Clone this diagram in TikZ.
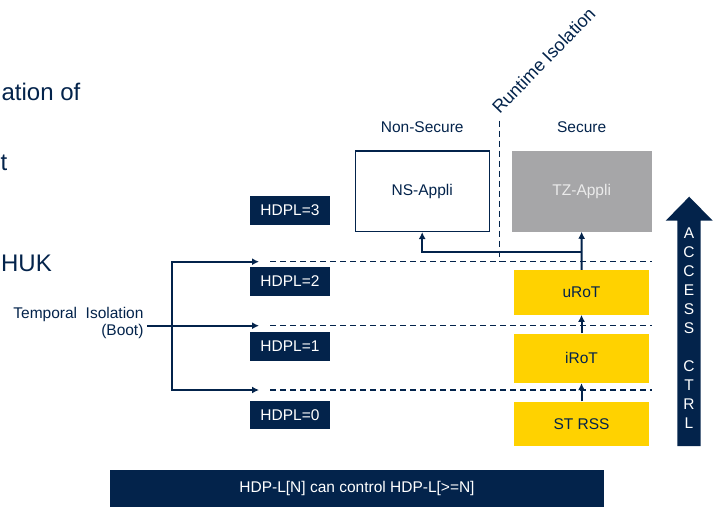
\documentclass[tikz,border=0pt]{standalone}
\usepackage{fontspec}
\setmainfont{Liberation Sans}
\usetikzlibrary{arrows.meta,positioning}
\definecolor{stnavy}{RGB}{3,35,75}
\definecolor{styellow}{RGB}{255,210,0}
\definecolor{tzgray}{RGB}{166,166,168}

\begin{document}
\begin{tikzpicture}
	[
		x=1pt, y=-1pt,
		every node/.style={font=\fontsize{15.5}{17.7}\selectfont, text=stnavy},
		hdpl/.style={fill=stnavy, text=white, minimum width=80pt, minimum height=28.5pt, inner sep=0pt},
		rot/.style={fill=styellow, minimum width=135pt, inner sep=0pt},
		appli/.style={minimum height=80.5pt, inner sep=0pt},
		flow/.style={stnavy, line width=2pt, -{Latex[length=7pt,width=7pt]}},
		level/.style={stnavy, line width=1.2pt, dash pattern=on 6pt off 4pt},
		slide/.style={font=\fontsize{24}{28}\selectfont, anchor=base east, inner sep=0pt}
	]
	\useasboundingbox (0,0) rectangle (717,506);

	% cut-off slide text
	\node(slide1) [slide] at (80.5,100.7) {ation of};
	\node(slide2) [slide] at (7.5,170) {t};
	\node(slide3) [slide] at (52,271.7) {DHUK};

	% levels
	\node(hdpl3) [hdpl] at (290,210.3) {HDPL=3};
	\node(hdpl2) [hdpl] at (290,281.5) {HDPL=2};
	\node(hdpl1) [hdpl] at (290,346.5) {HDPL=1};
	\node(hdpl0) [hdpl] at (290,415.2) {HDPL=0};

	\node(ns) [appli, draw=stnavy, line width=1.2pt, minimum width=134pt] at (422.2,191.2) {NS-Appli};
	\node(tz) [appli, fill=tzgray, text=white!92!black, minimum width=140pt] at (581.7,191.3) {TZ-Appli};
	\node(nslabel) at (ns.center |- 0,127) {Non-Secure};
	\node(tzlabel) at (tz.center |- 0,127) {Secure};

	\node(urot) [rot, minimum height=44.7pt] at (581.5,292.3) {uRoT};
	\node(irot) [rot, minimum height=49.4pt, below=18.5pt of urot] {iRoT};
	\node(strss) [rot, minimum height=44.7pt, below=18.3pt of irot] {ST RSS};

	\draw[flow] (strss) -- (irot);
	\draw[flow] (irot) -- (urot);
	\draw[flow] (urot) -- (tz);
	\coordinate (tee) at (urot.north |- 0,252.3);
	\draw[flow] (tee) -| (ns.south);

	% level separators
	\coordinate (lvl2) at (270,261.7);
	\coordinate (lvl1) at (270,325.7);
	\coordinate (lvl0) at (270,390);
	\foreach \l in {0,1,2}
		\draw[level] (lvl\l) -- (lvl\l -| tz.east);

	% runtime isolation
	\coordinate (rtop) at (499.3,120.7);
	\draw[level] (rtop) -- (rtop |- lvl2);
	\node(runtime) [rotate=46, anchor=base west, font=\fontsize{18}{20}\selectfont] at (497.5,117.5) {Runtime Isolation};

	% temporal isolation
	\node(temporal) [anchor=east, align=right] at (147,323) {Temporal\ \ Isolation\\(Boot)};
	\coordinate (fork) at (172.3,325.7);
	\foreach \l in {0,1,2}
		\coordinate (tip\l) at ([xshift=-11pt]lvl\l);
	\draw[flow] (temporal.east |- fork) -- (tip1);
	\draw[flow] (fork) -- (fork |- tip2) -- (tip2);
	\draw[flow] (fork) -- (fork |- tip0) -- (tip0);

	% access control
	\fill[stnavy] (677.3,446) -- (677.3,220.7) -- (665.7,220.7) -- (689.2,196.7)
		-- (712.7,220.7) -- (700.7,220.7) -- (700.7,446) -- cycle;
	\foreach \ch/\p in {A/0,C/1,C/2,E/3,S/4,S/5,C/7,T/8,R/9,L/10}
		\node(acc\p) [text=white] at (689,{232.7+19.06*\p}) {\ch};

	\node(rule) [fill=stnavy, text=white, minimum width=494pt, minimum height=37pt, inner sep=0pt,
		font=\fontsize{15.5}{18}\selectfont] at (357,488) {HDP-L[N] can control HDP-L[>=N]};
\end{tikzpicture}
\end{document}
